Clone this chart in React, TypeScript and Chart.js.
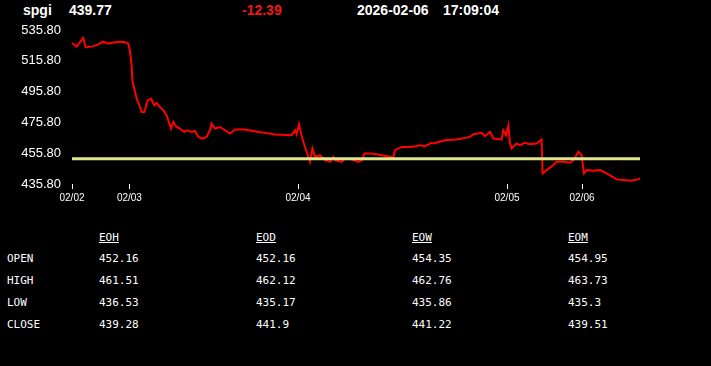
import React, { useEffect, useRef } from "react";
import { Chart, registerables } from "chart.js";

Chart.register(...registerables);

const symbol = "spgi";
const lastPrice = "439.77";
const change = "-12.39";
const dateText = "2026-02-06";
const timeText = "17:09:04";

const barIdx = [0,2.3,3.5,5.6,6.8,9.8,13,15.5,18,21.5,25.5,28,29,29.8,30.2,32.3,34,34.8,36.2,37.8,39.5,41.2,42.3,44,45.7,47.3,49.5,50.7,52.3,54,56.2,57.3,59.8,61.5,63.2,65.2,67.3,69,69.8,71.5,74,76.5,79,81.5,86.5,93.2,96.5,101.5,109.8,111.5,112.3,113.5,114.5,115.7,117.3,119,120.2,121.5,124,126.5,129,130.7,131.5,134.8,136.5,139.8,143.2,145,146.2,149.8,154.8,160.7,161.5,164.8,169.8,174,176.5,179.8,180.7,186.5,192.3,199,200.7,204.8,206.5,209,210.7,214.8,215.7,217,218.2,219,219.8,222.3,224,226.5,229,232.3,234.8,235.3,237.3,240.7,242.3,245.7,249,250.7,253.2,254.8,256,257.3,260.7,264,267.3,272.3,275.7,279,283.2,284];

const prices = [527.4,525.0,527.1,530.6,524.6,525.0,526.3,528.2,527.1,527.8,528.2,527.1,522.4,512.7,503.0,491.4,485.8,482.5,482.5,490.1,491.2,486.9,488.4,485.8,483.6,480.4,471.8,476.1,472.8,471.8,469.6,470.7,469.6,470.3,466.4,465.3,466.4,470.7,475.0,471.8,472.8,470.7,468.6,471.2,471.2,469.6,469.0,467.9,467.5,470.7,468.1,474.6,468.6,463.1,456.7,450.2,458.9,453.4,454.5,451.3,450.2,453.4,451.3,450.2,452.4,451.8,450.2,451.3,455.6,455.6,454.5,453.1,457.8,459.9,459.9,461.0,460.4,462.5,462.1,464.2,464.7,466.4,468.1,469.0,466.8,469.6,465.3,464.7,470.7,467.5,473.9,462.1,458.9,462.1,461.0,462.5,461.7,462.1,464.7,442.7,444.8,448.1,450.2,450.2,449.6,451.3,456.7,454.5,442.7,444.8,444.4,444.8,442.7,438.8,438.4,437.9,438.8,439.77];

const refLevel = 452.16;
const xMin = 0;
const xMax = 284;

const dateTickIdx = [0, 28.7, 113, 217.5, 255];
const dateTickLabels = ["02/02", "02/03", "02/04", "02/05", "02/06"];
const yTicks = [435.8, 455.8, 475.8, 495.8, 515.8, 535.8];

const tableCols = ["EOH", "EOD", "EOW", "EOM"];
const tableRows = ["OPEN", "HIGH", "LOW", "CLOSE"];
const openVals = ["452.16", "452.16", "454.35", "454.95"];
const highVals = ["461.51", "462.12", "462.76", "463.73"];
const lowVals = ["436.53", "435.17", "435.86", "435.3"];
const closeVals = ["439.28", "441.9", "441.22", "439.51"];

const rowVals = [openVals, highVals, lowVals, closeVals];

const colX = [99, 256, 412, 568];
const rowY = [238, 259, 281, 303, 325];

export default function App() {
  const canvasRef = useRef<HTMLCanvasElement | null>(null);

  useEffect(() => {
    const canvas = canvasRef.current;
    if (!canvas) return;
    const n = Math.min(barIdx.length, prices.length);
    const priceData = [];
    for (let i = 0; i < n; i++) priceData.push({ x: barIdx[i], y: prices[i] });
    const chart = new Chart(canvas, {
      type: "line",
      data: {
        datasets: [
          {
            data: [
              { x: xMin, y: refLevel },
              { x: xMax, y: refLevel },
            ],
            borderColor: "#dfe68a",
            borderWidth: 3,
            pointRadius: 0,
            tension: 0,
          },
          {
            data: priceData,
            borderColor: "#ff0000",
            borderWidth: 2,
            pointRadius: 0,
            tension: 0,
          },
        ],
      },
      options: {
        animation: false,
        responsive: false,
        maintainAspectRatio: false,
        events: [],
        layout: { padding: { top: 30, right: 71, left: 0, bottom: 0 } },
        plugins: {
          legend: { display: false },
          tooltip: { enabled: false },
          title: { display: false },
        },
        scales: {
          x: {
            type: "linear",
            min: xMin,
            max: xMax,
            border: { display: false },
            grid: {
              display: true,
              drawOnChartArea: false,
              drawTicks: true,
              tickLength: 5,
              color: "#ffffff",
              lineWidth: 1,
            },
            afterBuildTicks: (scale: any) => {
              scale.ticks = dateTickIdx.map((v) => ({ value: v }));
            },
            afterFit: (scale: any) => {
              scale.height = 31;
            },
            ticks: {
              autoSkip: false,
              maxRotation: 0,
              minRotation: 0,
              padding: 3,
              color: "#ffffff",
              font: { family: "'Liberation Sans', Arial, sans-serif", size: 10 },
              callback: (_v: any, i: number) => dateTickLabels[i],
            },
          },
          y: {
            type: "linear",
            min: yTicks[0],
            max: yTicks[yTicks.length - 1],
            border: { display: false },
            grid: { display: false, drawTicks: false },
            afterBuildTicks: (scale: any) => {
              scale.ticks = yTicks.map((v) => ({ value: v }));
            },
            afterFit: (scale: any) => {
              scale.width = 72;
            },
            ticks: {
              padding: 11,
              color: "#ffffff",
              font: { family: "'Liberation Sans', Arial, sans-serif", size: 13 },
              callback: (v: any) => Number(v).toFixed(2),
            },
          },
        },
      },
    });
    return () => chart.destroy();
  }, []);

  const headFont: React.CSSProperties = {
    position: "absolute",
    top: 2,
    lineHeight: "16px",
    fontFamily: "'Liberation Sans', Arial, sans-serif",
    fontWeight: "bold",
    fontSize: 14,
    color: "#ffffff",
    whiteSpace: "nowrap",
  };

  const mono: React.CSSProperties = {
    position: "absolute",
    lineHeight: "14px",
    fontFamily: "'DejaVu Sans Mono', monospace",
    fontSize: 11,
    color: "#ffffff",
    whiteSpace: "nowrap",
  };

  return (
    <div
      style={{
        position: "fixed",
        left: 0,
        top: 0,
        width: 711,
        height: 366,
        background: "#000000",
        overflow: "hidden",
      }}
    >
      <div style={{ ...headFont, left: 23 }}>{symbol}</div>
      <div style={{ ...headFont, left: 69 }}>{lastPrice}</div>
      <div style={{ ...headFont, left: 242, color: "#f01818" }}>{change}</div>
      <div style={{ ...headFont, left: 357 }}>{dateText}</div>
      <div style={{ ...headFont, left: 443 }}>{timeText}</div>
      <canvas
        ref={canvasRef}
        width={711}
        height={215}
        style={{ position: "absolute", left: 0, top: 0, width: 711, height: 215 }}
      />
      {tableCols.map((c, i) => (
        <div
          key={c}
          style={{ ...mono, left: colX[i], top: rowY[0] - 7, textDecoration: "underline" }}
        >
          {c}
        </div>
      ))}
      {tableRows.map((r, ri) => (
        <React.Fragment key={r}>
          <div style={{ ...mono, left: 7, top: rowY[ri + 1] - 7 }}>{r}</div>
          {rowVals[ri].map((v, ci) => (
            <div key={ci} style={{ ...mono, left: colX[ci], top: rowY[ri + 1] - 7 }}>
              {v}
            </div>
          ))}
        </React.Fragment>
      ))}
    </div>
  );
}
